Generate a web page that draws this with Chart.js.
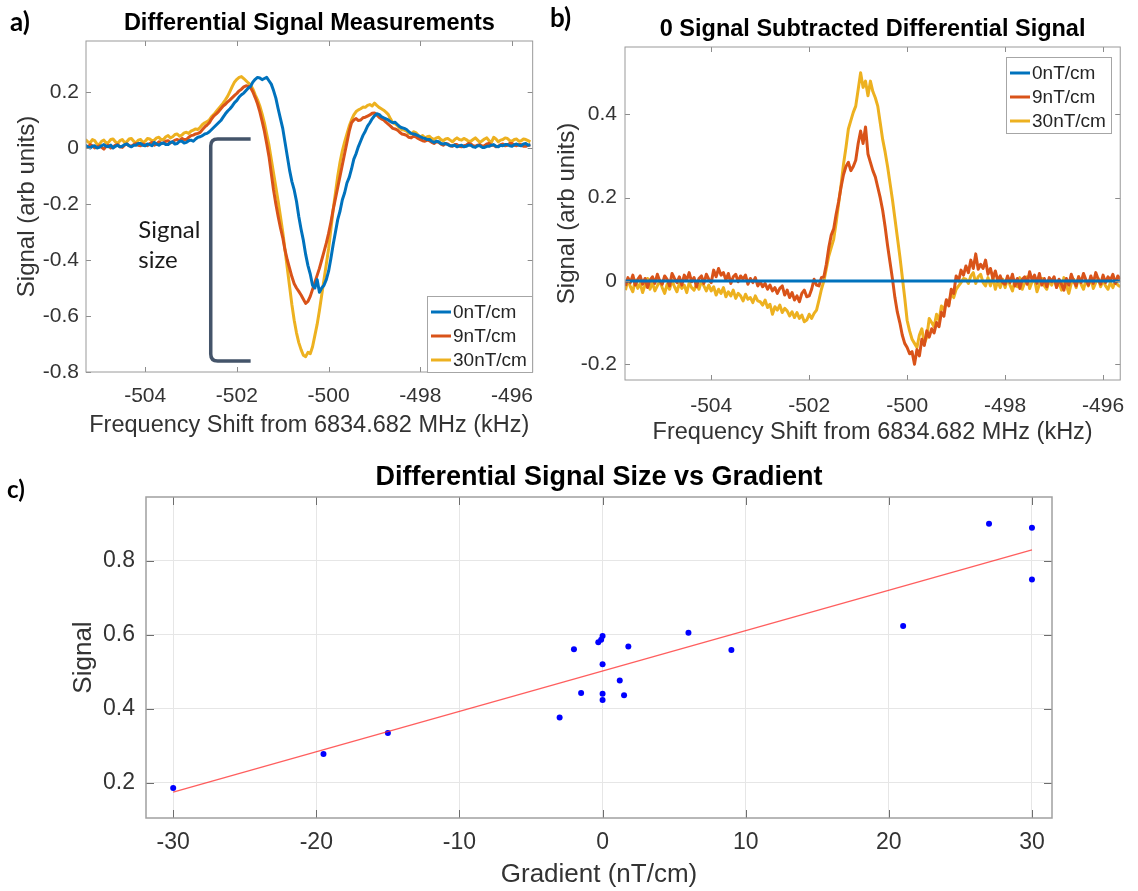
<!DOCTYPE html>
<html>
<head>
<meta charset="utf-8">
<title>Differential signal vs gradient</title>
<script src="https://cdn.jsdelivr.net/npm/chart.js@4.4.1/dist/chart.umd.min.js"></script>
<style>
  body { margin: 0; background: #fff; }
  #wrap { position: relative; width: 1138px; height: 891px; overflow: hidden; }
  #wrap canvas { position: absolute; }
</style>
</head>
<body>
<div id="wrap">
  <canvas id="chartA" width="545" height="450" style="left:0;top:0"></canvas>
  <canvas id="chartB" width="593" height="450" style="left:545px;top:0"></canvas>
  <canvas id="chartC" width="1138" height="436" style="left:0;top:455px"></canvas>
</div>
<script>
// sweep grids (kHz offset from 6834.682 MHz), 0.05 kHz steps
const freqStep = 0.05;
const freqStartA = -505.3;
const freqStartB = -505.75;

// a) raw differential signal per gradient (rows after the first span 1 kHz)
const a0nT = [
  0.010, 0.004, 0.000, 0.006, 0.008, 0.000,
  0.002, 0.008, 0.012, 0.006, 0.004, 0.010, 0.000, 0.006, 0.010, 0.004, 0.006, 0.012, 0.014, 0.008, 0.004, 0.010, 0.010, 0.016, 0.016, 0.010,
  0.008, 0.014, 0.012, 0.008, 0.020, 0.014, 0.010, 0.016, 0.018, 0.012, 0.012, 0.020, 0.022, 0.014, 0.016, 0.024, 0.024, 0.018, 0.020, 0.026,
  0.028, 0.024, 0.032, 0.038, 0.040, 0.044, 0.050, 0.052, 0.058, 0.066, 0.074, 0.082, 0.090, 0.098, 0.110, 0.122, 0.132, 0.140, 0.150, 0.162,
  0.170, 0.182, 0.190, 0.196, 0.205, 0.214, 0.220, 0.236, 0.245, 0.252, 0.250, 0.244, 0.248, 0.252, 0.240, 0.228, 0.205, 0.178, 0.140, 0.105,
  0.070, 0.020, -0.030, -0.080, -0.120, -0.150, -0.190, -0.245, -0.290, -0.330, -0.380, -0.420, -0.450, -0.490, -0.500, -0.470, -0.515, -0.500, -0.490, -0.470,
  -0.440, -0.395, -0.345, -0.300, -0.255, -0.225, -0.185, -0.160, -0.125, -0.105, -0.075, -0.040, -0.020, 0.005, 0.025, 0.045, 0.060, 0.078, 0.090, 0.104,
  0.115, 0.122, 0.120, 0.112, 0.108, 0.104, 0.100, 0.094, 0.090, 0.092, 0.084, 0.076, 0.072, 0.070, 0.066, 0.058, 0.052, 0.050, 0.048, 0.044,
  0.040, 0.036, 0.034, 0.030, 0.030, 0.024, 0.020, 0.024, 0.022, 0.016, 0.014, 0.016, 0.012, 0.008, 0.008, 0.010, 0.004, 0.008, 0.010, 0.004,
  0.006, 0.010, 0.010, 0.004, 0.002, 0.008, 0.008, 0.002, 0.002, 0.006, 0.006, 0.010, 0.012, 0.006, 0.004, 0.010, 0.008, 0.012, 0.012, 0.008,
  0.006, 0.012, 0.014, 0.010, 0.008, 0.014, 0.016, 0.010, 0.012
];
const a9nT = [
  0.006, 0.002, 0.012, 0.008, 0.000, 0.004,
  0.008, 0.002, -0.004, 0.006, 0.010, 0.000, 0.004, 0.010, 0.012, 0.004, 0.002, 0.010, 0.014, 0.008, 0.006, 0.012, 0.016, 0.010, 0.008, 0.014,
  0.012, 0.008, 0.016, 0.020, 0.010, 0.014, 0.022, 0.016, 0.018, 0.024, 0.026, 0.018, 0.022, 0.028, 0.030, 0.026, 0.034, 0.030, 0.030, 0.038,
  0.044, 0.046, 0.050, 0.052, 0.056, 0.066, 0.075, 0.082, 0.090, 0.104, 0.115, 0.122, 0.130, 0.140, 0.150, 0.156, 0.165, 0.172, 0.180, 0.188,
  0.195, 0.204, 0.210, 0.218, 0.222, 0.220, 0.215, 0.200, 0.180, 0.158, 0.130, 0.096, 0.060, 0.016, -0.030, -0.090, -0.150, -0.200, -0.245, -0.285,
  -0.320, -0.365, -0.400, -0.430, -0.460, -0.485, -0.500, -0.512, -0.525, -0.540, -0.555, -0.548, -0.530, -0.505, -0.480, -0.455, -0.430, -0.400, -0.370, -0.340,
  -0.305, -0.265, -0.220, -0.180, -0.140, -0.100, -0.060, -0.020, 0.020, 0.060, 0.090, 0.100, 0.105, 0.098, 0.100, 0.108, 0.110, 0.114, 0.118, 0.124,
  0.125, 0.118, 0.110, 0.104, 0.100, 0.092, 0.085, 0.078, 0.070, 0.068, 0.064, 0.056, 0.050, 0.048, 0.045, 0.038, 0.036, 0.042, 0.040, 0.034,
  0.030, 0.026, 0.024, 0.028, 0.026, 0.020, 0.016, 0.022, 0.020, 0.014, 0.010, 0.016, 0.014, 0.008, 0.006, 0.012, 0.012, 0.006, 0.004, 0.008,
  0.010, 0.016, 0.014, 0.008, 0.006, 0.010, 0.012, 0.006, 0.008, 0.014, 0.016, 0.010, 0.010, 0.004, 0.006, 0.012, 0.014, 0.008, 0.010, 0.016,
  0.016, 0.010, 0.008, 0.012, 0.012, 0.006, 0.006, 0.010, 0.010
];
const a30nT = [
  0.030, 0.022, 0.018, 0.030, 0.026, 0.014,
  0.012, 0.024, 0.028, 0.018, 0.020, 0.030, 0.032, 0.022, 0.016, 0.026, 0.030, 0.020, 0.022, 0.032, 0.034, 0.024, 0.018, 0.028, 0.030, 0.020,
  0.024, 0.034, 0.032, 0.026, 0.028, 0.036, 0.038, 0.030, 0.030, 0.040, 0.044, 0.036, 0.040, 0.048, 0.050, 0.042, 0.046, 0.054, 0.056, 0.052,
  0.060, 0.064, 0.068, 0.066, 0.074, 0.084, 0.090, 0.094, 0.100, 0.112, 0.120, 0.130, 0.140, 0.150, 0.160, 0.172, 0.185, 0.202, 0.220, 0.236,
  0.245, 0.252, 0.255, 0.248, 0.240, 0.232, 0.225, 0.210, 0.190, 0.172, 0.150, 0.122, 0.090, 0.050, 0.010, -0.040, -0.090, -0.140, -0.190, -0.245,
  -0.300, -0.365, -0.430, -0.495, -0.560, -0.615, -0.660, -0.695, -0.720, -0.740, -0.745, -0.730, -0.735, -0.710, -0.670, -0.630, -0.580, -0.525, -0.470, -0.415,
  -0.360, -0.290, -0.220, -0.160, -0.100, -0.050, -0.010, 0.022, 0.050, 0.078, 0.100, 0.118, 0.130, 0.136, 0.140, 0.146, 0.145, 0.152, 0.155, 0.150,
  0.160, 0.152, 0.145, 0.140, 0.135, 0.128, 0.120, 0.104, 0.090, 0.086, 0.080, 0.072, 0.065, 0.064, 0.060, 0.052, 0.050, 0.058, 0.055, 0.046,
  0.040, 0.044, 0.036, 0.040, 0.042, 0.034, 0.030, 0.036, 0.038, 0.030, 0.026, 0.032, 0.034, 0.028, 0.022, 0.030, 0.036, 0.030, 0.028, 0.034,
  0.030, 0.024, 0.024, 0.030, 0.036, 0.028, 0.020, 0.026, 0.032, 0.036, 0.026, 0.020, 0.038, 0.032, 0.022, 0.028, 0.030, 0.036, 0.034, 0.026,
  0.024, 0.030, 0.032, 0.024, 0.026, 0.032, 0.030, 0.026, 0.022
];

// b) same sweeps with the 0 nT/cm trace subtracted (rows after the first span 1 kHz)
const b9nT = [
  -0.012, 0.008, -0.004, 0.014, -0.010, 0.004, 0.012, -0.008, 0.006, -0.016, 0.002, 0.010, -0.006, 0.016, 0.000,
  -0.008, 0.012, 0.004, -0.012, 0.018, 0.006, -0.004, 0.010, -0.010, 0.014, 0.002, 0.020, -0.002, 0.008, -0.014, 0.006, 0.012, -0.006, 0.016, 0.004,
  -0.004, 0.026, 0.010, 0.030, 0.014, 0.020, 0.002, 0.018, -0.006, 0.010, 0.016, -0.002, 0.012, 0.004, 0.014, -0.008, 0.006, -0.004, 0.008, -0.012,
  -0.002, -0.014, -0.006, -0.020, -0.010, -0.024, -0.016, -0.030, -0.018, -0.012, -0.034, -0.022, -0.040, -0.028, -0.046, -0.036, -0.050, -0.030, -0.022, -0.038,
  -0.036, -0.020, 0.004, -0.010, -0.012, 0.008, 0.010, 0.040, 0.080, 0.110, 0.125, 0.160, 0.190, 0.225, 0.255, 0.275, 0.285, 0.265, 0.275, 0.290,
  0.330, 0.360, 0.330, 0.370, 0.305, 0.285, 0.265, 0.250, 0.225, 0.200, 0.170, 0.130, 0.085, 0.045, 0.005, -0.040, -0.075, -0.100, -0.130, -0.150,
  -0.160, -0.175, -0.170, -0.200, -0.165, -0.180, -0.140, -0.155, -0.120, -0.135, -0.115, -0.125, -0.100, -0.110, -0.075, -0.085, -0.045, -0.060, -0.020, -0.030,
  0.012, 0.000, 0.026, 0.014, 0.036, 0.020, 0.050, 0.030, 0.065, 0.028, 0.040, 0.030, 0.050, 0.016, 0.030, 0.006, 0.024, 0.000, 0.012, -0.004,
  -0.008, 0.012, -0.004, 0.016, -0.012, 0.006, -0.018, 0.004, 0.010, -0.008, 0.022, 0.002, 0.014, -0.006, 0.018, -0.010, 0.006, -0.014, 0.008, -0.002,
  0.010, -0.016, 0.004, -0.008, -0.022, 0.006, -0.010, 0.016, 0.000, -0.012, 0.010, -0.004, 0.018, 0.002, -0.010, 0.012, -0.006, 0.020, 0.004, -0.008,
  0.014, -0.004, 0.010, 0.002, 0.016, -0.006, 0.012, 0.004
];
const b30nT = [
  -0.022, 0.004, -0.014, -0.026, 0.002, -0.018, -0.006, -0.028, -0.010, 0.006, -0.020, -0.004, -0.024, -0.012, 0.000,
  -0.016, -0.030, -0.008, -0.020, 0.002, -0.014, -0.026, -0.006, -0.018, -0.010, -0.028, -0.004, -0.016, -0.022, -0.008, -0.020, 0.000, -0.012, -0.024, -0.010,
  -0.024, -0.014, -0.034, -0.020, -0.030, -0.016, -0.038, -0.026, -0.036, -0.022, -0.042, -0.030, -0.036, -0.048, -0.032, -0.044, -0.040, -0.052, -0.036, -0.048,
  -0.050, -0.058, -0.046, -0.064, -0.056, -0.080, -0.062, -0.070, -0.058, -0.076, -0.066, -0.072, -0.084, -0.074, -0.088, -0.076, -0.090, -0.082, -0.098, -0.094,
  -0.080, -0.090, -0.078, -0.070, -0.046, -0.020, 0.000, 0.030, 0.060, 0.080, 0.100, 0.140, 0.185, 0.230, 0.280, 0.320, 0.365, 0.385, 0.405, 0.420,
  0.460, 0.500, 0.465, 0.480, 0.445, 0.480, 0.455, 0.440, 0.420, 0.380, 0.340, 0.310, 0.275, 0.235, 0.195, 0.150, 0.105, 0.060, 0.010, -0.040,
  -0.095, -0.120, -0.140, -0.150, -0.160, -0.130, -0.115, -0.150, -0.135, -0.090, -0.100, -0.110, -0.080, -0.095, -0.060, -0.070, -0.048, -0.055, -0.030, -0.040,
  -0.020, -0.012, -0.004, 0.006, 0.004, -0.006, 0.012, 0.020, -0.006, 0.010, 0.016, -0.004, -0.012, 0.008, -0.012, 0.010, -0.020, 0.000, -0.016, 0.004,
  -0.016, 0.006, -0.010, -0.024, 0.002, -0.014, 0.008, -0.020, -0.004, 0.010, -0.018, -0.002, 0.004, -0.026, -0.008, 0.006, -0.012, -0.020, 0.002, -0.010,
  0.006, -0.014, -0.004, -0.022, 0.008, -0.010, -0.030, -0.006, 0.004, -0.016, 0.010, -0.008, -0.020, 0.002, -0.012, 0.008, -0.018, -0.004, 0.006, -0.014,
  0.002, -0.012, -0.020, -0.004, -0.016, 0.000, -0.010, -0.014
];
// reference trace minus itself
const b0nT = b9nT.map(() => 0);

// c) signal size against applied gradient
const gradient = [-30, -19.5, -15, -3, -1.5, -2, -0.3, -0.1, 0, 0, 0, 0, 1.2, 1.5, 1.8, 6, 9, 21, 27, 30, 30];
const signalSize = [0.186, 0.278, 0.335, 0.377, 0.443, 0.561, 0.580, 0.587, 0.597, 0.521, 0.441,
                    0.424, 0.477, 0.437, 0.569, 0.606, 0.559, 0.624, 0.901, 0.890, 0.750];
const fitGradient = [-30, 30];
const fitSignal = [0.175, 0.83];

const seriesLabels = ['0nT/cm', '9nT/cm', '30nT/cm'];
const lineColors = ['#0072BD', '#D95319', '#EDB120'];
const freqTicks = [-504, -502, -500, -498, -496];
const aSignalTicks = [-0.8, -0.6, -0.4, -0.2, 0, 0.2];
const bSignalTicks = [-0.2, 0, 0.2, 0.4];
const gradTicks = [-30, -20, -10, 0, 10, 20, 30];
const cSignalTicks = [0.2, 0.4, 0.6, 0.8];

const FONT = '"Liberation Sans", Arial, sans-serif';
Chart.defaults.font.family = FONT;
Chart.defaults.color = '#333';

const toPoints = (start, ys) => ys.map((y, i) => ({ x: +(start + i * freqStep).toFixed(3), y }));
const fixTicks = vals => scale => { scale.ticks = vals.map(v => ({ value: v })); };
const fmt = v => String(+(+v).toFixed(1));

function trace(label, start, ys, color) {
  return {
    label, data: toPoints(start, ys), borderColor: color, backgroundColor: color,
    borderWidth: 3, pointRadius: 0, tension: 0, borderJoinStyle: 'round'
  };
}

// MATLAB-like box, inward ticks, inset legend, titles and notes
const panelDecor = {
  id: 'panelDecor',
  afterDatasetsDraw(chart, args, o) {
    const { ctx, chartArea: ca, scales: { x, y } } = chart;
    ctx.save();
    ctx.strokeStyle = o.tickColor;
    ctx.lineWidth = 1;
    ctx.beginPath();
    x.ticks.forEach(t => {
      const px = Math.round(x.getPixelForValue(t.value)) + 0.5;
      ctx.moveTo(px, ca.bottom); ctx.lineTo(px, ca.bottom - o.tickLen);
      ctx.moveTo(px, ca.top); ctx.lineTo(px, ca.top + o.tickLen);
    });
    y.ticks.forEach(t => {
      const py = Math.round(y.getPixelForValue(t.value)) + 0.5;
      ctx.moveTo(ca.left, py); ctx.lineTo(ca.left + o.tickLen, py);
      ctx.moveTo(ca.right, py); ctx.lineTo(ca.right - o.tickLen, py);
    });
    ctx.stroke();
    ctx.strokeStyle = o.boxColor;
    ctx.lineWidth = o.boxWidth;
    ctx.strokeRect(ca.left, ca.top, ca.right - ca.left, ca.bottom - ca.top);

    if (o.bracket) {
      const b = o.bracket;
      const x0 = x.getPixelForValue(b.x0), x1 = x.getPixelForValue(b.x1);
      const yT = y.getPixelForValue(b.yTop), yB = y.getPixelForValue(b.yBottom);
      ctx.strokeStyle = b.color;
      ctx.lineWidth = b.width;
      ctx.lineCap = 'butt';
      ctx.beginPath();
      ctx.moveTo(x1, yT);
      ctx.lineTo(x0 + b.radius, yT);
      ctx.quadraticCurveTo(x0, yT, x0, yT + b.radius);
      ctx.lineTo(x0, yB - b.radius);
      ctx.quadraticCurveTo(x0, yB, x0 + b.radius, yB);
      ctx.lineTo(x1, yB);
      ctx.stroke();
    }
    if (o.notes) {
      ctx.font = o.notes.font;
      ctx.fillStyle = o.notes.color;
      ctx.textAlign = 'left';
      ctx.textBaseline = 'alphabetic';
      o.notes.lines.forEach(n => ctx.fillText(n.text, x.getPixelForValue(n.x), y.getPixelForValue(n.y)));
    }

    if (o.legend) {
      const L = o.legend;
      const sets = chart.data.datasets;
      ctx.font = `${L.size}px ${FONT}`;
      const textW = Math.max(...sets.map(d => ctx.measureText(d.label).width));
      const w = Math.round(4 + 20 + 2 + textW + 5), h = 76;
      const left = Math.round(ca.right - L.right - w);
      const top = Math.round(L.corner === 'bottom' ? ca.bottom - L.bottom - h : ca.top + L.top);
      ctx.fillStyle = '#fff';
      ctx.fillRect(left, top, w, h);
      ctx.strokeStyle = '#a6a6a6';
      ctx.lineWidth = 1;
      ctx.strokeRect(left + 0.5, top + 0.5, w, h);
      sets.forEach((d, i) => {
        const cy = top + 16 + i * 24;
        ctx.strokeStyle = d.borderColor;
        ctx.lineWidth = 3;
        ctx.beginPath(); ctx.moveTo(left + 4, cy); ctx.lineTo(left + 24, cy); ctx.stroke();
        ctx.fillStyle = '#262626';
        ctx.textAlign = 'left';
        ctx.textBaseline = 'middle';
        ctx.fillText(d.label, left + 26, cy + 1);
      });
    }
    ctx.restore();
  },
  afterDraw(chart, args, o) {
    const { ctx, chartArea: ca } = chart;
    ctx.save();
    ctx.fillStyle = '#000';
    ctx.font = `bold ${o.titleSize}px ${FONT}`;
    ctx.textAlign = 'center';
    ctx.textBaseline = 'middle';
    ctx.fillText(o.title, (ca.left + ca.right) / 2, o.titleY);
    ctx.font = `bold ${o.letterSize}px Lato, "Open Sans", sans-serif`;
    ctx.textAlign = 'left';
    ctx.textBaseline = 'alphabetic';
    ctx.fillText(o.letter, o.letterX, o.letterY);
    ctx.restore();
  }
};

function axis(ticks, min, max, o) {
  return {
    type: 'linear', min, max,
    afterBuildTicks: fixTicks(ticks),
    afterFit: o.fit,
    grid: o.grid || { display: false, drawTicks: false },
    border: { display: false },
    ticks: { padding: o.pad, font: { size: o.tickSize }, color: '#333', callback: fmt },
    title: { display: true, text: o.title, color: '#333', font: { size: o.titleSize }, padding: o.titlePad }
  };
}

new Chart(document.getElementById('chartA'), {
  type: 'line',
  data: { datasets: [
    trace(seriesLabels[0], freqStartA, a0nT, lineColors[0]),
    trace(seriesLabels[1], freqStartA, a9nT, lineColors[1]),
    trace(seriesLabels[2], freqStartA, a30nT, lineColors[2])
  ] },
  options: {
    responsive: false, animation: false,
    layout: { padding: { top: 41, right: 12, bottom: 0, left: 0 } },
    plugins: {
      legend: { display: false }, tooltip: { enabled: false },
      panelDecor: {
        title: 'Differential Signal Measurements', titleSize: 23.5, titleY: 24,
        letter: 'a)', letterSize: 26, letterX: 10, letterY: 31,
        tickLen: 5, tickColor: '#8c8c8c', boxColor: '#9a9a9a', boxWidth: 1,
        legend: { corner: 'bottom', right: 1, bottom: 0, size: 19 },
        bracket: { x0: -502.57, x1: -501.70, yTop: 0.032, yBottom: -0.761, color: '#44546A', width: 3.5, radius: 7 },
        notes: { font: '24px Lato, sans-serif', color: '#1a1a1a',
                 lines: [{ text: 'Signal', x: -504.15, y: -0.3225 }, { text: 'size', x: -504.15, y: -0.43 }] }
      }
    },
    scales: {
      x: axis(freqTicks, -505.29, -495.55, { fit: s => { s.height = 78; }, pad: 11.4, tickSize: 21,
        title: 'Frequency Shift from 6834.682 MHz (kHz)', titleSize: 23.5, titlePad: { top: 0, bottom: 10 } }),
      y: axis(aSignalTicks, -0.8, 0.382, { fit: s => { s.width = 86; }, pad: 7, tickSize: 21,
        title: 'Signal (arb units)', titleSize: 24, titlePad: { top: 12.6, bottom: 0 } })
    }
  },
  plugins: [panelDecor]
});

new Chart(document.getElementById('chartB'), {
  type: 'line',
  data: { datasets: [
    trace(seriesLabels[0], freqStartB, b0nT, lineColors[0]),
    trace(seriesLabels[1], freqStartB, b9nT, lineColors[1]),
    trace(seriesLabels[2], freqStartB, b30nT, lineColors[2])
  ] },
  options: {
    responsive: false, animation: false,
    layout: { padding: { top: 47, right: 14, bottom: 0, left: 0 } },
    plugins: {
      legend: { display: false }, tooltip: { enabled: false },
      panelDecor: {
        title: '0 Signal Subtracted Differential Signal', titleSize: 23.5, titleY: 30,
        letter: 'b)', letterSize: 26, letterX: 5, letterY: 27,
        tickLen: 5, tickColor: '#8c8c8c', boxColor: '#9a9a9a', boxWidth: 1,
        legend: { corner: 'top', right: 9, top: 10, size: 19 }
      }
    },
    scales: {
      x: axis(freqTicks, -505.76, -495.65, { fit: s => { s.height = 70; }, pad: 13.4, tickSize: 21,
        title: 'Frequency Shift from 6834.682 MHz (kHz)', titleSize: 23.5, titlePad: { top: 0, bottom: 3.6 } }),
      y: axis(bSignalTicks, -0.238, 0.562, { fit: s => { s.width = 80; }, pad: 8, tickSize: 21,
        title: 'Signal (arb units)', titleSize: 24, titlePad: { top: 7.6, bottom: 0 } })
    }
  },
  plugins: [panelDecor]
});

const cGrid = { display: true, drawTicks: false, color: '#e6e6e6', lineWidth: 1 };
new Chart(document.getElementById('chartC'), {
  type: 'scatter',
  data: { datasets: [
    {
      type: 'line', label: 'fit',
      data: fitGradient.map((g, i) => ({ x: g, y: fitSignal[i] })),
      borderColor: 'rgba(255, 40, 40, 0.75)', borderWidth: 1.3, pointRadius: 0, tension: 0
    },
    {
      label: 'data',
      data: gradient.map((g, i) => ({ x: g, y: signalSize[i] })),
      backgroundColor: '#0000ff', borderWidth: 0, pointRadius: 3
    }
  ] },
  options: {
    responsive: false, animation: false,
    layout: { padding: { top: 42, right: 86, bottom: 0, left: 0 } },
    plugins: {
      legend: { display: false }, tooltip: { enabled: false },
      panelDecor: {
        title: 'Differential Signal Size vs Gradient', titleSize: 27, titleY: 23,
        letter: 'c)', letterSize: 24, letterX: 7, letterY: 43,
        tickLen: 8, tickColor: '#6e6e6e', boxColor: '#a0a0a0', boxWidth: 1.5
      }
    },
    scales: {
      x: axis(gradTicks, -31.9, 31.4, { fit: s => { s.height = 73; }, pad: 10.8, tickSize: 23, grid: cGrid,
        title: 'Gradient (nT/cm)', titleSize: 26, titlePad: { top: 0, bottom: 0.4 } }),
      y: axis(cSignalTicks, 0.105, 0.973, { fit: s => { s.width = 146; }, pad: 11, tickSize: 23, grid: cGrid,
        title: 'Signal', titleSize: 26, titlePad: { top: 68.4, bottom: 0 } })
    }
  },
  plugins: [panelDecor]
});
</script>
</body>
</html>
